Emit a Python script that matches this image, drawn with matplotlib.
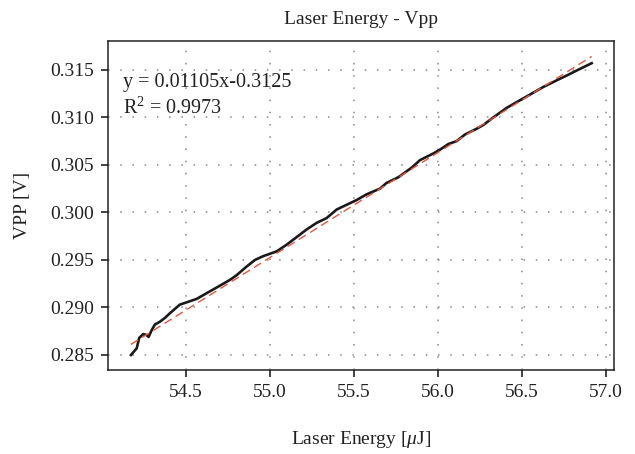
import numpy as np
import matplotlib.pyplot as plt

# datos
energy = [54.173, 54.207, 54.222, 54.246, 54.266, 54.278, 54.296, 54.315, 54.345,
          54.375, 54.405, 54.464, 54.514, 54.564, 54.623, 54.683, 54.762, 54.802,
          54.861, 54.911, 54.960, 55.040, 55.099, 55.159, 55.218, 55.278, 55.337,
          55.397, 55.456, 55.516, 55.575, 55.655, 55.694, 55.764, 55.843, 55.893,
          55.972, 56.012, 56.062, 56.111, 56.161, 56.230, 56.270, 56.330, 56.409,
          56.488, 56.548, 56.627, 56.707, 56.766, 56.845, 56.915]
vpp = [0.2850, 0.2857, 0.2868, 0.2872, 0.2871, 0.2869, 0.2876, 0.2882, 0.2885,
       0.2889, 0.2894, 0.2903, 0.2906, 0.2909, 0.2915, 0.2921, 0.2929, 0.2934,
       0.2943, 0.2950, 0.2954, 0.2959, 0.2966, 0.2974, 0.2982, 0.2989, 0.2994,
       0.3003, 0.3008, 0.3013, 0.3019, 0.3025, 0.3031, 0.3037, 0.3047, 0.3055,
       0.3062, 0.3066, 0.3072, 0.3075, 0.3082, 0.3088, 0.3092, 0.3100, 0.3110,
       0.3118, 0.3124, 0.3132, 0.3139, 0.3144, 0.3151, 0.3157]

slope = 0.01105
intercept = -0.3125
r2 = 0.9973

plt.rcParams['font.family'] = 'Liberation Serif'
plt.rcParams['mathtext.fontset'] = 'custom'
plt.rcParams['mathtext.rm'] = 'Liberation Serif'
plt.rcParams['mathtext.it'] = 'Liberation Serif:italic'

fig = plt.figure(figsize=(6.35, 4.54), dpi=100)
ax = fig.add_axes([0.170, 0.185, 0.797, 0.725])

x_fit = np.array([energy[0], energy[-1]])
ax.plot(x_fit, slope * x_fit + intercept, color='#e8553a', lw=1.0,
        dashes=(6, 3.5), zorder=3)
ax.plot(energy, vpp, color='#1a1a1a', lw=1.9, zorder=2)

ax.set_xlim(54.036, 57.048)
ax.set_ylim(0.28342, 0.31805)
ax.set_xticks([54.5, 55.0, 55.5, 56.0, 56.5, 57.0])
ax.set_yticks([0.285, 0.290, 0.295, 0.300, 0.305, 0.310, 0.315])
ax.set_xticklabels([f'{v:.1f}' for v in ax.get_xticks()])
ax.set_yticklabels([f'{v:.3f}' for v in ax.get_yticks()])
ax.tick_params(direction='out', length=5, width=1.2, labelsize=14, colors='#222222',
               top=False, right=False, pad=5)
ax.grid(True, color='#888888', lw=1.1, linestyle=(0, (1, 7)))
for s in ax.spines.values():
    s.set_color('#222222')
    s.set_linewidth(1.1)

ax.set_title('Laser Energy - Vpp', fontsize=14, color='#222222', pad=12)
ax.set_xlabel(r'Laser Energy [$\mu$J]', fontsize=14, color='#222222', labelpad=20)
ax.set_ylabel('VPP [V]', fontsize=14, color='#222222', labelpad=14)

ax.text(0.030, 0.875, f'y = {slope}x{intercept}', transform=ax.transAxes,
        fontsize=14.5, color='#222222', va='center')
ax.text(0.030, 0.795, r'R$^2$ = ' + f'{r2}', transform=ax.transAxes,
        fontsize=14.5, color='#222222', va='center')

fig.savefig('out.png', dpi=100)
